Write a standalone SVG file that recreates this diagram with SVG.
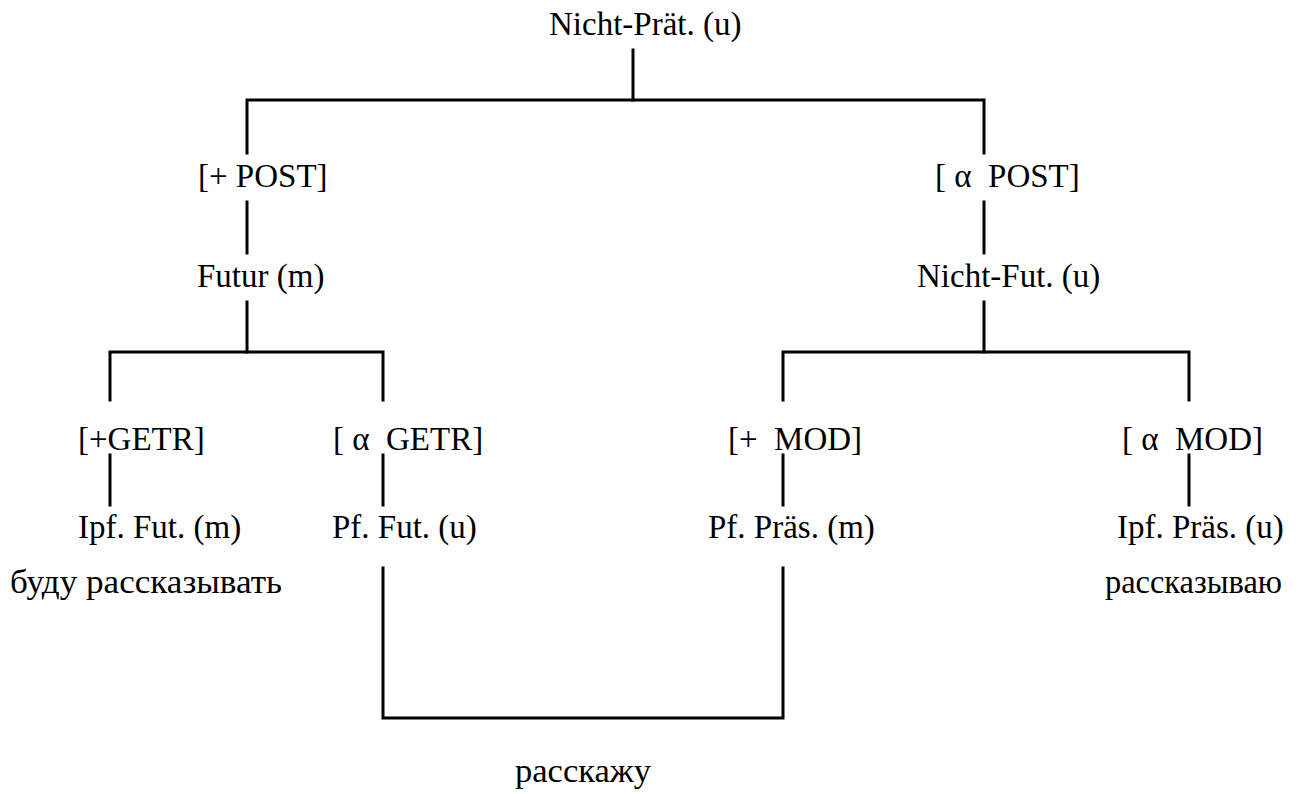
<svg xmlns="http://www.w3.org/2000/svg" width="1302" height="794" viewBox="0 0 1302 794">
<style>
text { font-family: "Liberation Serif", "Times New Roman", serif; font-size: 33px; fill: #000; white-space: pre; }
.ln { stroke: #000; stroke-width: 3; fill: none; stroke-linecap: square; }
</style>
<rect width="1302" height="794" fill="#fff"/>
<g id="connectors">
  <path class="ln" d="M633 50 V100"/>
  <path class="ln" d="M247 153 V100 H984 V153"/>
  <path class="ln" d="M247 202 V253"/>
  <path class="ln" d="M984 202 V253"/>
  <path class="ln" d="M247 302 V352"/>
  <path class="ln" d="M984 302 V352"/>
  <path class="ln" d="M110 400 V352 H383 V400"/>
  <path class="ln" d="M783 400 V352 H1189 V400"/>
  <path class="ln" d="M110 455 V505"/>
  <path class="ln" d="M383 455 V505"/>
  <path class="ln" d="M783 455 V505"/>
  <path class="ln" d="M1189 455 V505"/>
  <path class="ln" d="M383 568 V718 H783 V568"/>
</g>
<g id="n-root"><text x="549" y="35">Nicht-Prät. (u)</text></g>
<g id="n-post-plus"><text x="198" y="187">[+ POST]</text></g>
<g id="n-post-alpha"><text x="935" y="187">[ α  POST]</text></g>
<g id="n-futur"><text x="197" y="287">Futur (m)</text></g>
<g id="n-nichtfut"><text x="917" y="287">Nicht-Fut. (u)</text></g>
<g id="n-getr-plus"><text x="78" y="450">[+GETR]</text></g>
<g id="n-getr-alpha"><text x="333" y="450">[ α  GETR]</text></g>
<g id="n-mod-plus"><text x="728" y="450">[+  MOD]</text></g>
<g id="n-mod-alpha"><text x="1122" y="450">[ α  MOD]</text></g>
<g id="n-ipf-fut"><text x="78" y="538">Ipf. Fut. (m)</text></g>
<g id="n-pf-fut"><text x="332" y="538">Pf. Fut. (u)</text></g>
<g id="n-pf-praes"><text x="708" y="538">Pf. Präs. (m)</text></g>
<g id="n-ipf-praes"><text x="1117" y="538">Ipf. Präs. (u)</text></g>
<g id="n-budu"><text x="10" y="593" textLength="272" lengthAdjust="spacingAndGlyphs">буду рассказывать</text></g>
<g id="n-rasskazyvayu"><text x="1105" y="593" textLength="177" lengthAdjust="spacingAndGlyphs">рассказываю</text></g>
<g id="n-rasskazhu"><text x="515" y="782" textLength="136" lengthAdjust="spacingAndGlyphs">расскажу</text></g>
</svg>
